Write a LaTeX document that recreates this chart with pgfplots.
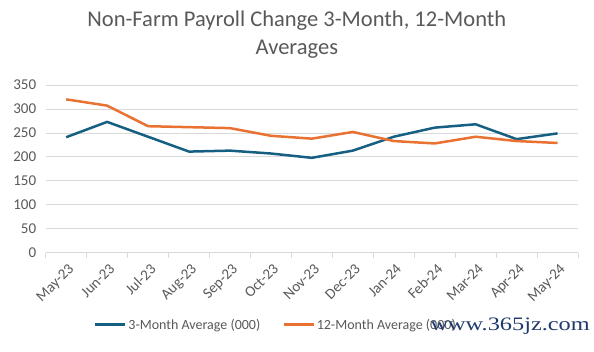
\documentclass[border=0pt]{standalone}
\usepackage{pgfplots}
\pgfplotsset{compat=1.18}
\usepackage{fontspec}
\setmainfont{Carlito}
\newfontfamily\wmfont{Liberation Serif}
\definecolor{cblue}{HTML}{156082}
\definecolor{corange}{HTML}{E97132}
\definecolor{ctext}{HTML}{595959}
\definecolor{cgrid}{HTML}{D9D9D9}
\definecolor{cwm}{HTML}{1F3A6E}
\begin{document}
\begin{tikzpicture}
\begin{axis}[name=ax,
  scale only axis, width=532.3pt, height=167.7pt,
  xmin=-0.5, xmax=12.5, ymin=0, ymax=350,
  xtick={0,...,12},
  xticklabels={May-23,Jun-23,Jul-23,Aug-23,Sep-23,Oct-23,Nov-23,Dec-23,Jan-24,Feb-24,Mar-24,Apr-24,May-24},
  minor xtick={-0.5,0.5,...,12.5},
  ytick={0,50,...,350},
  axis x line*=bottom, axis y line*=left,
  x axis line style={draw=cgrid, line width=0.8pt, -},
  y axis line style={draw=none},
  major x tick style={draw=none},
  minor x tick style={draw=cgrid, line width=0.8pt},
  minor tick length=5pt,
  xtick align=outside,
  ytick style={draw=none},
  ymajorgrids, grid style={cgrid, line width=0.8pt},
  tick label style={font=\fontsize{15}{17}\selectfont, text=ctext},
  /pgf/number format/assume math mode=true,
  xticklabel style={rotate=45, anchor=north east, inner sep=1pt, yshift=-4pt, xshift=-2pt},
  yticklabel style={xshift=-6pt},
  legend style={at={(0.5,0)}, anchor=center, yshift=-72pt, xshift=-36pt, draw=none,
    font=\fontsize{14}{16}\selectfont, text=ctext, legend columns=2,
    /tikz/every even column/.append style={column sep=20pt}},
  legend image code/.code={\draw[#1, line width=2.5pt] (0pt,0pt) -- (30pt,0pt);},
  clip=false,
]
\addplot[cblue, line width=2.5pt] coordinates {
(0,241)(1,273)(2,242)(3,211)(4,213)(5,207)(6,198)(7,213)(8,242)(9,261)(10,268)(11,237)(12,249)};
\addlegendentry{3-Month Average (000)}
\addplot[corange, line width=2.5pt] coordinates {
(0,320)(1,307)(2,264)(3,262)(4,260)(5,244)(6,238)(7,252)(8,233)(9,228)(10,242)(11,233)(12,229)};
\addlegendentry{12-Month Average (000)}
\end{axis}
\node[align=center, text=ctext, font=\fontsize{22.5}{28}\selectfont] at ([xshift=-15pt, yshift=50pt]ax.north) {Non-Farm Payroll Change 3-Month, 12-Month\\Averages};
\node[text=cwm, font=\wmfont\fontsize{19}{19}\selectfont, anchor=east, xscale=1.28, inner sep=0pt] at ([xshift=12pt, yshift=-74pt]ax.south east) {www.365jz.com};
\pgfresetboundingbox
\path ([xshift=-45.7pt, yshift=-99.3pt]ax.south west) rectangle ([xshift=16pt, yshift=85pt]ax.north east);
\end{tikzpicture}
\end{document}
